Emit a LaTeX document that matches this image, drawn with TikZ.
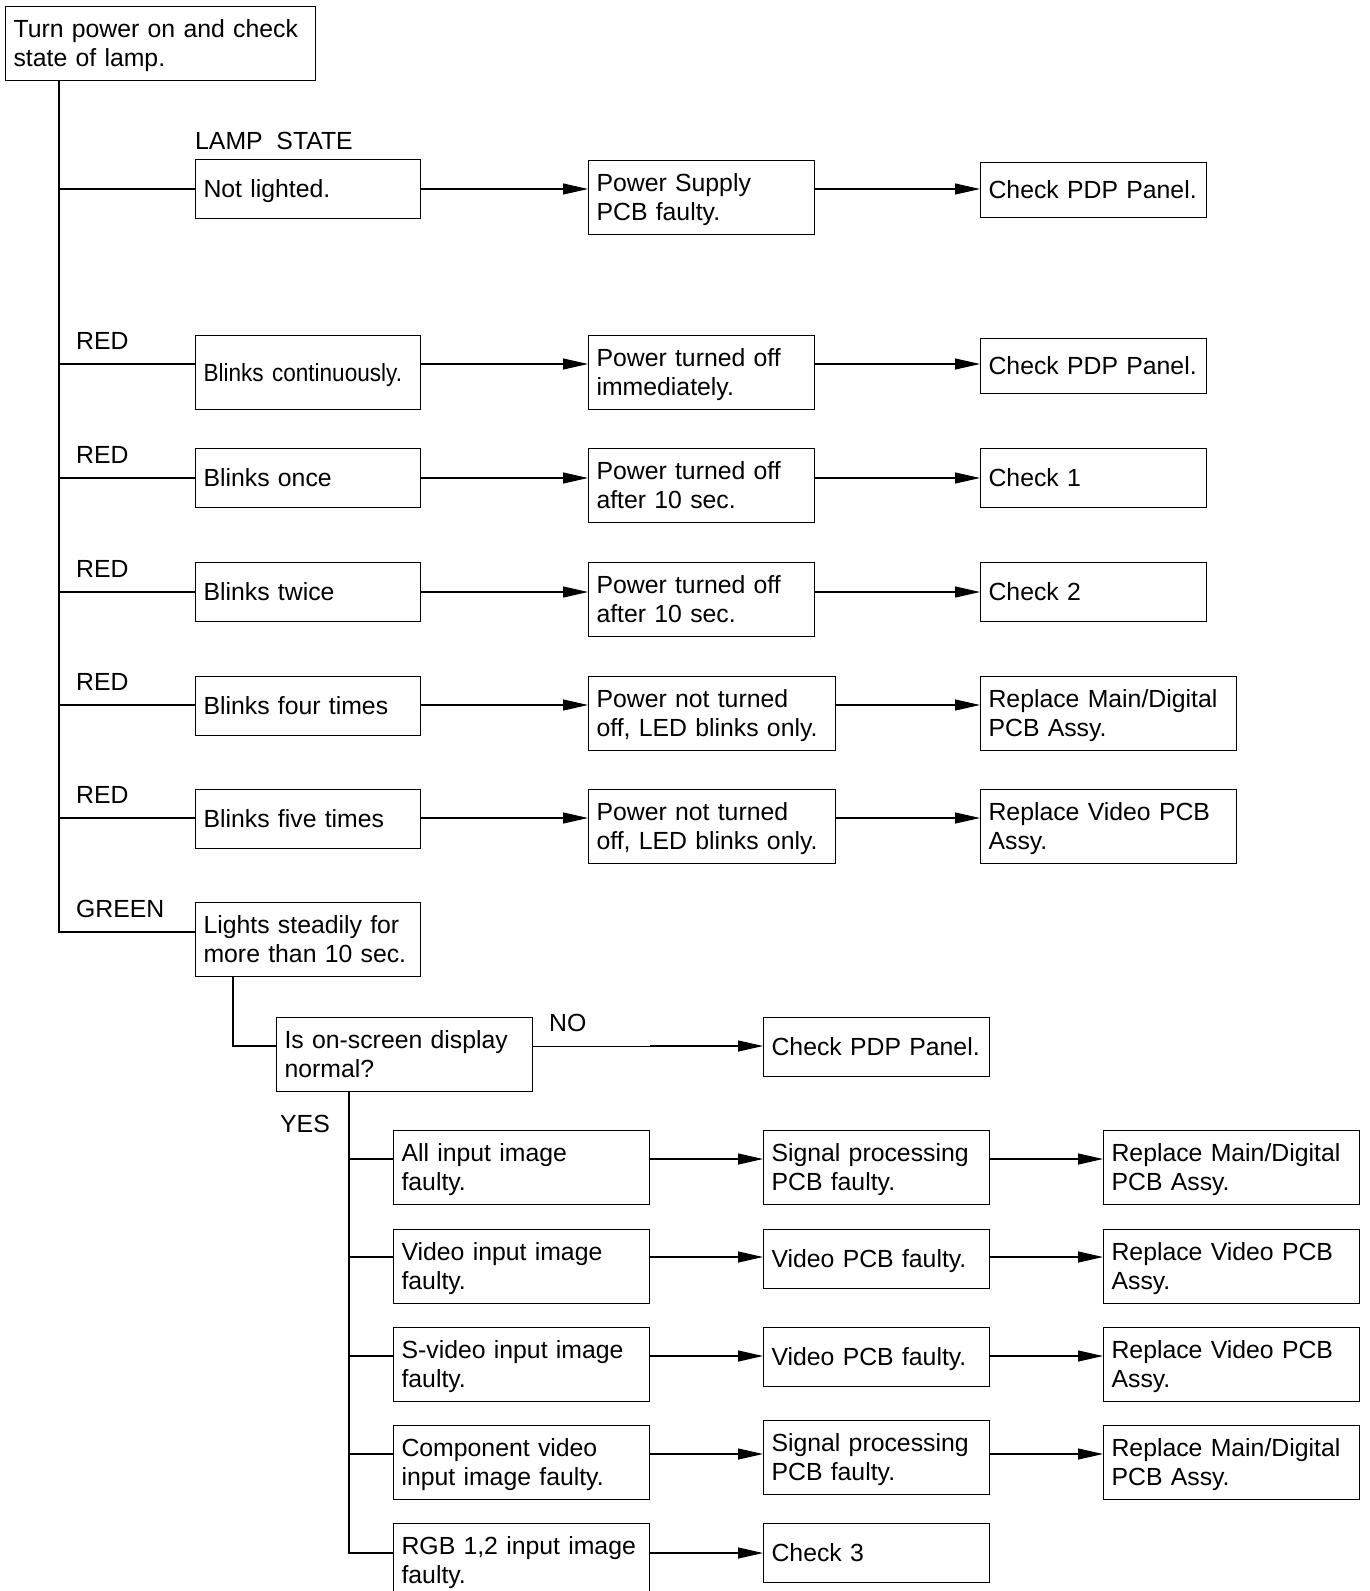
\documentclass[tikz,border=0pt]{standalone}
\usepackage{fontspec}
\setmainfont{Liberation Sans}
\newfontfamily\condfont[FakeStretch=0.91]{Liberation Sans}
\usetikzlibrary{arrows.meta}
\newcommand{\boxstrut}{\rule[-6.25pt]{0pt}{29.5pt}}
\begin{document}
\begin{tikzpicture}[x=1pt,y=-1pt,
  box/.style={draw, line width=1.1pt, anchor=north west, inner xsep=8pt, inner ysep=0pt,
    align=left, font=\fontsize{24.8}{29.5}\selectfont,
    execute at begin node=\boxstrut, execute at end node=\boxstrut},
  tw/.style={text width=#1},
  lbl/.style={anchor=base west, inner sep=0pt, font=\fontsize{24.8}{29.5}\selectfont},
  conn/.style={line width=1.1pt},
  thinconn/.style={line width=0.8pt},
  arr/.style={conn, -{Triangle[length=25pt,width=11pt]}}]
\path[fill=white] (0,0) rectangle (1370,1591);
\useasboundingbox (0,0) rectangle (1370,1591);

% top
\node[box, tw=294pt, minimum height=74pt] (top) at (5,6) {Turn power on and check\\state of lamp.};
\node[lbl] (lamp) at (195,149) {LAMP~~STATE};

% trunk coordinates
\coordinate (tk1) at (59,189);
\coordinate (tk2) at (59,364);
\coordinate (tk3) at (59,478);
\coordinate (tk4) at (59,592);
\coordinate (tk5) at (59,705);
\coordinate (tk6) at (59,818);
\coordinate (tk7) at (59,932);

% row 1
\node[box, tw=209pt, minimum height=59pt] (a1) at (195,159) {Not lighted.};
\node[box, tw=210pt, minimum height=74pt] (b1) at (588,160) {Power Supply\\PCB faulty.};
\node[box, tw=210pt, minimum height=55pt] (c1) at (980,162) {Check PDP Panel.};
% row 2
\node[box, tw=209pt, minimum height=74pt] (a2) at (195,335) {\condfont Blinks continuously.};
\node[box, tw=210pt, minimum height=74pt] (b2) at (588,335) {Power turned off\\immediately.};
\node[box, tw=210pt, minimum height=55pt] (c2) at (980,338) {Check PDP Panel.};
% row 3
\node[box, tw=209pt, minimum height=59pt] (a3) at (195,448) {Blinks once};
\node[box, tw=210pt, minimum height=74pt] (b3) at (588,448) {Power turned off\\after 10 sec.};
\node[box, tw=210pt, minimum height=59pt] (c3) at (980,448) {Check 1};
% row 4
\node[box, tw=209pt, minimum height=59pt] (a4) at (195,562) {Blinks twice};
\node[box, tw=210pt, minimum height=74pt] (b4) at (588,562) {Power turned off\\after 10 sec.};
\node[box, tw=210pt, minimum height=59pt] (c4) at (980,562) {Check 2};
% row 5
\node[box, tw=209pt, minimum height=59pt] (a5) at (195,676) {Blinks four times};
\node[box, tw=231pt, minimum height=74pt] (b5) at (588,676) {Power not turned\\off, LED blinks only.};
\node[box, tw=240pt, minimum height=74pt] (c5) at (980,676) {Replace Main/Digital\\PCB Assy.};
% row 6
\node[box, tw=209pt, minimum height=59pt] (a6) at (195,789) {Blinks five times};
\node[box, tw=231pt, minimum height=74pt] (b6) at (588,789) {Power not turned\\off, LED blinks only.};
\node[box, tw=240pt, minimum height=74pt] (c6) at (980,789) {Replace Video PCB\\Assy.};
% row 7
\node[box, tw=209pt, minimum height=74pt] (a7) at (195,902) {Lights steadily for\\more than 10 sec.};

% labels
\node[lbl] (r2) at (76,349) {RED};
\node[lbl] (r3) at (76,463) {RED};
\node[lbl] (r4) at (76,577) {RED};
\node[lbl] (r5) at (76,690) {RED};
\node[lbl] (r6) at (76,803) {RED};
\node[lbl] (gr) at (76,917) {GREEN};

% trunk
\draw[conn] (top.south west -| tk7) -- (tk7) -- (tk7 -| a7.west);
\foreach \i in {1,...,6}{
  \draw[conn] (tk\i) -- (tk\i -| a\i.west);
  \draw[arr] (tk\i -| a\i.east) -- (tk\i -| b\i.west);
  \draw[arr] (tk\i -| b\i.east) -- (tk\i -| c\i.west);
}

% question
\coordinate (g1) at (233,1046);
\coordinate (nomid) at (650,1046);
\node[box, tw=240pt, minimum height=74pt] (q) at (276,1017) {Is on-screen display\\normal?};
\node[box, tw=210pt, minimum height=59pt] (no) at (763,1017) {Check PDP Panel.};
\node[lbl] (nolbl) at (549,1031) {NO};
\node[lbl] (yeslbl) at (280,1132) {YES};
\draw[conn] (a7.south -| g1) -- (g1) -- (g1 -| q.west);
\draw[thinconn] (g1 -| q.east) -- (nomid);
\draw[arr] (nomid) -- (g1 -| no.west);

% bottom rows
\coordinate (yk1) at (349,1159);
\coordinate (yk2) at (349,1257);
\coordinate (yk3) at (349,1356);
\coordinate (yk4) at (349,1454);
\coordinate (yk5) at (349,1553);

\node[box, tw=240pt, minimum height=74pt] (d1) at (393,1130) {All input image\\faulty.};
\node[box, tw=240pt, minimum height=74pt] (d2) at (393,1229) {Video input image\\faulty.};
\node[box, tw=240pt, minimum height=74pt] (d3) at (393,1327) {S-video input image\\faulty.};
\node[box, tw=240pt, minimum height=74pt] (d4) at (393,1425) {Component video\\input image faulty.};
\node[box, tw=240pt, minimum height=74pt] (d5) at (393,1523) {RGB 1,2 input image\\faulty.};

\node[box, tw=210pt, minimum height=74pt] (e1) at (763,1130) {Signal processing\\PCB faulty.};
\node[box, tw=210pt, minimum height=59pt] (e2) at (763,1229) {Video PCB faulty.};
\node[box, tw=210pt, minimum height=59pt] (e3) at (763,1327) {Video PCB faulty.};
\node[box, tw=210pt, minimum height=74pt] (e4) at (763,1420) {Signal processing\\PCB faulty.};
\node[box, tw=210pt, minimum height=59pt] (e5) at (763,1523) {Check 3};

\node[box, tw=240pt, minimum height=74pt] (f1) at (1103,1130) {Replace Main/Digital\\PCB Assy.};
\node[box, tw=240pt, minimum height=74pt] (f2) at (1103,1229) {Replace Video PCB\\Assy.};
\node[box, tw=240pt, minimum height=74pt] (f3) at (1103,1327) {Replace Video PCB\\Assy.};
\node[box, tw=240pt, minimum height=74pt] (f4) at (1103,1425) {Replace Main/Digital\\PCB Assy.};

\draw[conn] (q.south -| yk5) -- (yk5) -- (yk5 -| d5.west);
\foreach \i in {1,...,4}{
  \draw[conn] (yk\i) -- (yk\i -| d\i.west);
  \draw[arr] (yk\i -| d\i.east) -- (yk\i -| e\i.west);
  \draw[arr] (yk\i -| e\i.east) -- (yk\i -| f\i.west);
}
\draw[arr] (yk5 -| d5.east) -- (yk5 -| e5.west);
\end{tikzpicture}
\end{document}
